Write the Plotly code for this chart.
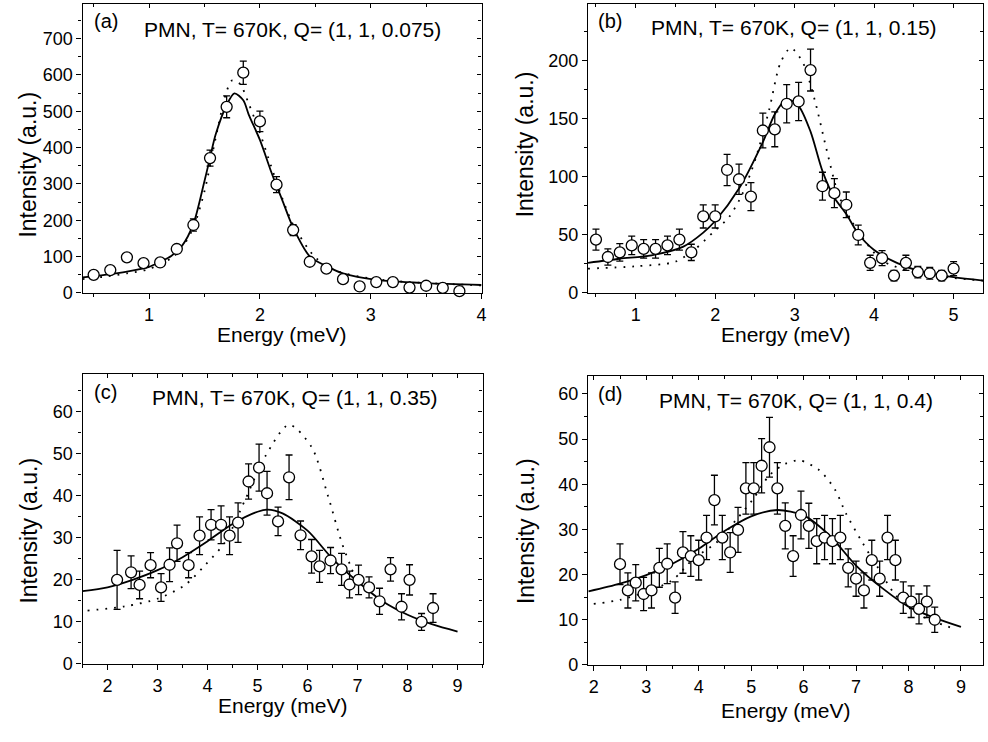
import plotly.graph_objects as go

# ---------------- data ----------------
# Panel (a)  Q = (1, 1, 0.075)
a_x = [0.5, 0.65, 0.8, 0.95, 1.1, 1.25, 1.4, 1.55, 1.7, 1.85, 2.0, 2.15, 2.3, 2.45, 2.6, 2.75, 2.9, 3.05, 3.2, 3.35, 3.5, 3.65, 3.8]
a_y = [50, 63, 98, 82, 84, 121, 187, 371, 512, 606, 472, 298, 173, 86, 67, 38, 18, 30, 30, 15, 20, 14, 5]
a_err = [6, 7, 9, 8, 9, 11, 17, 22, 30, 32, 28, 22, 15, 9, 8, 6, 5, 6, 6, 5, 5, 5, 4]
a_fit_x = [0.4, 0.6, 0.8, 1.0, 1.1, 1.2, 1.3, 1.4, 1.5, 1.55, 1.6, 1.7, 1.77, 1.85, 1.9, 2.0, 2.1, 2.15, 2.2, 2.3, 2.45, 2.6, 2.75, 3.05, 3.5, 4.0]
a_fit_y = [43, 50, 59, 72, 86, 102, 131, 190, 308, 372, 435, 517, 549, 530, 490, 421, 335, 295, 257, 180, 101, 74, 54, 36, 27, 22]
a_dot_x = [0.4, 0.6, 0.8, 1.0, 1.2, 1.3, 1.4, 1.5, 1.6, 1.7, 1.75, 1.82, 1.9, 2.0, 2.1, 2.2, 2.3, 2.5, 2.7, 3.0, 3.3, 3.6, 4.0]
a_dot_y = [38, 45, 54, 66, 96, 126, 180, 280, 425, 555, 585, 575, 520, 440, 350, 262, 188, 98, 60, 40, 31, 26, 21]

# Panel (b)  Q = (1, 1, 0.15)
b_x = [0.5, 0.65, 0.8, 0.95, 1.1, 1.25, 1.4, 1.55, 1.7, 1.85, 2.0, 2.15, 2.3, 2.45, 2.6, 2.75, 2.9, 3.05, 3.2, 3.35, 3.5, 3.65, 3.8, 3.95, 4.1, 4.25, 4.4, 4.55, 4.7, 4.85, 5.0]
b_y = [46, 31, 35, 41, 38, 38, 41, 46, 35, 66, 66, 106, 98, 83, 140, 141, 163, 165, 192, 92, 86, 76, 50, 26, 30, 15, 26, 18, 17, 15, 21]
b_err = [9, 7, 7.5, 8, 8, 8, 8, 9, 7, 10, 10, 13.5, 13, 12, 15, 15, 16.5, 16.5, 18, 12, 12.5, 11, 8.5, 6.5, 6.5, 4.5, 6.5, 5, 5, 4.5, 6]
b_fit_x = [0.4, 0.8, 1.2, 1.6, 1.85, 2.0, 2.3, 2.6, 2.75, 2.9, 3.05, 3.2, 3.35, 3.5, 3.65, 3.8, 4.0, 4.3, 4.6, 5.0, 5.4]
b_fit_y = [26, 29.5, 32.5, 40, 52, 62, 90, 130, 154, 167, 161, 139, 105, 82, 68, 51, 37, 25.5, 18.4, 13.6, 10.5]
b_dot_x = [0.4, 1.0, 1.5, 1.75, 2.0, 2.17, 2.34, 2.51, 2.68, 2.82, 2.95, 3.1, 3.25, 3.4, 3.55, 3.7, 3.85, 4.1, 4.5, 5.0, 5.4]
b_dot_y = [21, 23, 27, 38, 54, 65, 85, 116, 158, 198, 211, 199, 167, 124, 85, 64, 48, 28, 18, 13, 10.5]

# Panel (c)  Q = (1, 1, 0.35)
c_x = [2.19, 2.47, 2.64, 2.86, 3.07, 3.24, 3.39, 3.62, 3.84, 4.07, 4.27, 4.44, 4.61, 4.82, 5.03, 5.19, 5.41, 5.63, 5.86, 6.08, 6.24, 6.46, 6.68, 6.84, 7.02, 7.23, 7.44, 7.66, 7.88, 8.04, 8.28, 8.51]
c_y = [20.0, 21.8, 18.8, 23.5, 18.2, 23.6, 28.7, 23.5, 30.5, 33.1, 33.1, 30.5, 33.6, 43.4, 46.7, 40.6, 33.9, 44.4, 30.6, 25.6, 23.2, 24.6, 22.5, 18.9, 20.0, 18.2, 14.9, 22.5, 13.6, 20.0, 10.0, 13.3]
c_err = [7, 3.9, 3.3, 3, 3.3, 4, 4.3, 3, 4.5, 3.6, 4.5, 4.5, 4.7, 4.2, 5.6, 5.2, 3.4, 5.3, 3.4, 4, 3.8, 3.1, 3.8, 3.2, 3.5, 2.5, 3.1, 2.8, 3.1, 3.6, 2, 3.4]
c_fit_x = [1.5, 2.0, 2.5, 3.0, 3.5, 4.0, 4.5, 5.0, 5.2, 5.5, 6.0, 6.5, 7.0, 7.5, 8.0, 8.5, 9.0]
c_fit_y = [17.3, 18.2, 20, 22.3, 25.4, 29.2, 33.3, 36.2, 36.7, 35.8, 31.7, 25, 19.6, 14.9, 11.7, 9.4, 7.7]
c_dot_x = [1.6, 2.35, 3.0, 3.55, 3.95, 4.35, 4.75, 5.15, 5.63, 6.08, 6.41, 6.68, 6.88, 6.98]
c_dot_y = [12.7, 13.7, 15.5, 18.8, 23.5, 29, 39, 49.3, 56.9, 51.6, 39.9, 29, 22.7, 20.0]

# Panel (d)  Q = (1, 1, 0.4)
d_x = [2.5, 2.65, 2.8, 2.95, 3.1, 3.25, 3.4, 3.55, 3.7, 3.85, 4.0, 4.15, 4.3, 4.45, 4.6, 4.75, 4.9, 5.05, 5.2, 5.35, 5.5, 5.65, 5.8, 5.95, 6.1, 6.25, 6.4, 6.55, 6.7, 6.85, 7.0, 7.15, 7.3, 7.45, 7.6, 7.75, 7.9, 8.05, 8.2, 8.35, 8.5]
d_y = [22.3, 16.5, 18.2, 15.7, 16.5, 21.5, 22.4, 14.9, 24.9, 24.1, 23.2, 28.2, 36.5, 28.2, 24.9, 29.9, 39.1, 39.1, 44.1, 48.2, 39.1, 30.8, 24.1, 33.2, 30.8, 27.4, 28.2, 27.4, 28.2, 21.5, 19.1, 16.5, 23.2, 19.1, 28.2, 23.2, 14.9, 14.0, 12.4, 14.0, 10.0]
d_err = [4.5, 3.9, 4, 3.7, 3.9, 4.3, 4.4, 3.5, 4.6, 4.5, 4.4, 4.9, 5.5, 4.9, 4.4, 5, 5.7, 5.7, 6, 6.6, 5.7, 5.1, 4.5, 5.3, 5, 5, 4.9, 5, 4.9, 4.2, 3.9, 3.9, 4.4, 3.9, 4.9, 4.4, 3.5, 3.5, 3.3, 3.5, 2.8]
d_fit_x = [1.9, 2.5, 3.0, 3.5, 4.0, 4.5, 5.0, 5.5, 6.0, 6.5, 7.0, 7.5, 8.0, 8.5, 9.0]
d_fit_y = [16.3, 18, 19.9, 22.4, 25.7, 29.7, 32.9, 34.3, 33.1, 28.6, 22, 17, 12.9, 10.4, 8.4]
d_dot_x = [2.0, 2.5, 3.0, 3.5, 3.9, 4.34, 4.72, 5.03, 5.35, 5.65, 5.92, 6.3, 6.6, 6.8, 7.12, 7.43, 7.75, 8.2, 8.9]
d_dot_y = [13.5, 14.4, 16.2, 18.8, 23.5, 27.1, 32.2, 36.6, 42, 44.5, 45.3, 43.1, 38.8, 33.7, 27.1, 21.3, 15.5, 11.1, 7.9]

panel_labels = ["(a)", "(b)", "(c)", "(d)"]
panel_titles = ["PMN, T= 670K, Q= (1, 1, 0.075)", "PMN, T= 670K, Q= (1, 1, 0.15)",
                "PMN, T= 670K, Q= (1, 1, 0.35)", "PMN, T= 670K, Q= (1, 1, 0.4)"]
x_title = "Energy (meV)"
y_title = "Intensity (a.u.)"

# ---------------- layout geometry (pixels) ----------------
W, H = 988, 742
FONT = "Liberation Sans, Arial, sans-serif"

panels = [
    dict(data=(a_x, a_y, a_err), fit=(a_fit_x, a_fit_y), dot=(a_dot_x, a_dot_y),
         box=(83, 484, 4, 297), xr=[0.4, 4.0], yr=[0, 795], xd=1, xm=0.5, yd=100, ym=50,
         lab=(92, 21), tit=(294, 30), xt=(283, 339), yt=(28, 167)),
    dict(data=(b_x, b_y, b_err), fit=(b_fit_x, b_fit_y), dot=(b_dot_x, b_dot_y),
         box=(591, 988, 4, 297), xr=[0.4, 5.37], yr=[0, 249], xd=1, xm=0.5, yd=50, ym=25,
         lab=(599, 21), tit=(798, 28), xt=(790, 339), yt=(528, 146)),
    dict(data=(c_x, c_y, c_err), fit=(c_fit_x, c_fit_y), dot=(c_dot_x, c_dot_y),
         box=(83, 485, 379, 673), xr=[1.5, 9.5], yr=[0, 69], xd=1, xm=0.5, yd=10, ym=5,
         lab=(92, 397), tit=(296, 403), xt=(284, 715), yt=(29, 538)),
    dict(data=(d_x, d_y, d_err), fit=(d_fit_x, d_fit_y), dot=(d_dot_x, d_dot_y),
         box=(591, 988, 381, 674), xr=[1.89, 9.42], yr=[0, 64], xd=1, xm=0.5, yd=10, ym=5,
         lab=(599, 399), tit=(800, 406), xt=(790, 720), yt=(528, 538)),
]

fig = go.Figure()
layout = {}
annotations = []


def px2x(px):
    return px / W


def py2y(py):
    return 1 - py / H


for i, p in enumerate(panels):
    n = i + 1
    no = i + 5
    xa, ya = f"x{n}", f"y{n}"
    xo, yo = f"x{no}", f"y{no}"
    L, R, T, B = p["box"]
    xdom = [px2x(L), min(1.0, px2x(R))]
    ydom = [py2y(B), py2y(T)]

    common_tick = dict(color="black", size=18, family=FONT)
    layout[f"xaxis{n}"] = dict(
        domain=xdom, anchor=ya, range=p["xr"], dtick=p["xd"], tick0=0,
        showgrid=False, zeroline=False, showline=True, linecolor="black", linewidth=1.2,
        ticks="outside", ticklen=5, tickwidth=1.2, tickcolor="black",
        tickfont=common_tick,
        minor=dict(dtick=p["xm"], tick0=0, ticks="outside", ticklen=3, tickwidth=1, tickcolor="black", showgrid=False),
    )
    layout[f"yaxis{n}"] = dict(
        domain=ydom, anchor=xa, range=p["yr"], dtick=p["yd"], tick0=0,
        showgrid=False, zeroline=False, showline=True, linecolor="black", linewidth=1.2,
        ticks="outside", ticklen=5, tickwidth=1.2, tickcolor="black",
        tickfont=common_tick,
        minor=dict(dtick=p["ym"], tick0=0, ticks="outside", ticklen=3, tickwidth=1, tickcolor="black", showgrid=False),
    )
    # mirrored top / right axes with inward ticks
    layout[f"xaxis{no}"] = dict(
        overlaying=xa, anchor=ya, side="top", range=p["xr"], dtick=p["xd"], tick0=0,
        showgrid=False, zeroline=False, showline=True, linecolor="black", linewidth=1.2,
        ticks="inside", ticklen=4, tickwidth=1, tickcolor="black", showticklabels=False,
        minor=dict(dtick=p["xm"], tick0=0, ticks="inside", ticklen=3, tickwidth=1, tickcolor="black", showgrid=False),
    )
    layout[f"yaxis{no}"] = dict(
        overlaying=ya, anchor=xa, side="right", range=p["yr"], dtick=p["yd"], tick0=0,
        showgrid=False, zeroline=False, showline=True, linecolor="black", linewidth=1.2,
        ticks="inside", ticklen=4, tickwidth=1, tickcolor="black", showticklabels=False,
        minor=dict(dtick=p["ym"], tick0=0, ticks="inside", ticklen=3, tickwidth=1, tickcolor="black", showgrid=False),
    )
    fig.add_trace(go.Scatter(x=[], y=[], xaxis=xo, yaxis=yo, showlegend=False, hoverinfo="skip"))

    # dotted curve
    fig.add_trace(go.Scatter(x=p["dot"][0], y=p["dot"][1], xaxis=xa, yaxis=ya, mode="lines",
                             line=dict(color="black", width=1.8, dash="1.8px,7px", shape="spline", smoothing=0.8),
                             showlegend=False, hoverinfo="skip"))
    # solid fit
    fig.add_trace(go.Scatter(x=p["fit"][0], y=p["fit"][1], xaxis=xa, yaxis=ya, mode="lines",
                             line=dict(color="black", width=1.8, shape="spline", smoothing=0.8),
                             showlegend=False, hoverinfo="skip"))
    # data points
    dx, dy, de = p["data"]
    fig.add_trace(go.Scatter(x=dx, y=dy, xaxis=xa, yaxis=ya, mode="markers",
                             marker=dict(symbol="circle", size=11, color="white",
                                         line=dict(color="black", width=1.3)),
                             error_y=dict(type="data", array=de, visible=True, color="black",
                                          thickness=1.3, width=3.5),
                             cliponaxis=False, showlegend=False))

    lx, ly = p["lab"]
    annotations.append(dict(text=panel_labels[i], xref="paper", yref="paper", x=px2x(lx), y=py2y(ly),
                            xanchor="left", yanchor="middle", showarrow=False,
                            font=dict(size=20, color="black", family=FONT)))
    tx, ty = p["tit"]
    annotations.append(dict(text=panel_titles[i], xref="paper", yref="paper", x=px2x(tx), y=py2y(ty),
                            xanchor="center", yanchor="middle", showarrow=False,
                            font=dict(size=21, color="black", family=FONT)))
    ex, ey = p["xt"]
    annotations.append(dict(text=x_title, xref="paper", yref="paper", x=px2x(ex), y=py2y(ey),
                            xanchor="center", yanchor="middle", showarrow=False,
                            font=dict(size=21, color="black", family=FONT)))
    ix, iy = p["yt"]
    annotations.append(dict(text=y_title, xref="paper", yref="paper", x=px2x(ix), y=py2y(iy),
                            xanchor="center", yanchor="middle", showarrow=False, textangle=-90,
                            font=dict(size=23, color="black", family=FONT)))

fig.update_layout(
    width=W, height=H, margin=dict(l=0, r=0, t=0, b=0),
    paper_bgcolor="white", plot_bgcolor="white",
    font=dict(family=FONT, color="black"),
    annotations=annotations, showlegend=False,
    **layout,
)

fig.write_html("out.html", config={"displayModeBar": False})
